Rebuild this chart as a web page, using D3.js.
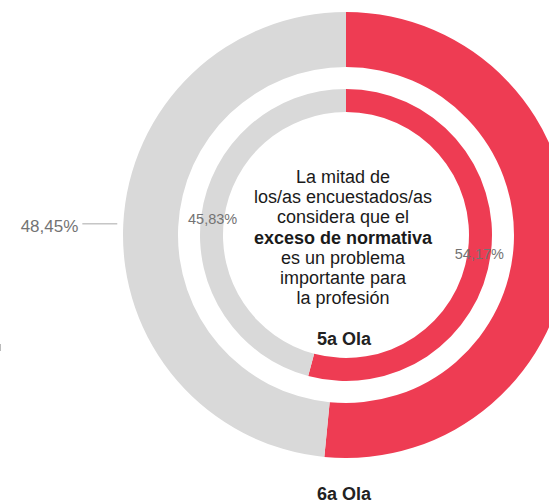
<!DOCTYPE html>
<html lang="es">
<head>
<meta charset="utf-8">
<script src="https://cdn.jsdelivr.net/npm/d3@7"></script>
<style>
  html, body { margin: 0; padding: 0; background: #fff; }
  svg { display: block; font-family: "Liberation Sans", Arial, Helvetica, sans-serif; }
</style>
</head>
<body>
<svg id="chart" width="549" height="504"></svg>
<script>
// Share of respondents who see excess regulation as an important problem
const categories = ["Problema importante", "Resto"];
const waves = ["6a Ola", "5a Ola"];
const outerValues = [51.55, 48.45];   // 6a Ola
const innerValues = [54.17, 45.83];   // 5a Ola
const centerLines = [
  { text: "La mitad de", bold: false },
  { text: "los/as encuestados/as", bold: false },
  { text: "considera que el", bold: false },
  { text: "exceso de normativa", bold: true },
  { text: "es un problema", bold: false },
  { text: "importante para", bold: false },
  { text: "la profesión", bold: false }
];

const svg = d3.select("#chart");
const W = +svg.attr("width");
const cx = 346, cy = 235;

const color = d3.scaleOrdinal().domain(categories).range(["#ee3c53", "#d9d9d9"]);
const fmt = v => d3.format(".2f")(v).replace(".", ",") + "%";

const pie = d3.pie().sort(null).value(d => d.value);
const toRows = vals => categories.map((c, i) => ({ category: c, value: vals[i] }));

const outerArc = d3.arc().innerRadius(168).outerRadius(223);
const innerArc = d3.arc().innerRadius(123).outerRadius(146);

const g = svg.append("g").attr("transform", `translate(${cx},${cy})`);

const outerData = pie(toRows(outerValues));
const innerData = pie(toRows(innerValues));

g.append("g").selectAll("path").data(outerData).join("path")
  .attr("d", outerArc)
  .attr("fill", d => color(d.data.category));

g.append("g").selectAll("path").data(innerData).join("path")
  .attr("d", innerArc)
  .attr("fill", d => color(d.data.category));

// Outer ring labels with leader lines (only those that fall inside the view)
const midAngle = d => (d.startAngle + d.endAngle) / 2;
const polar = (a, r) => [Math.sin(a) * r, -Math.cos(a) * r];

const outerLabels = g.append("g");
outerData
  .filter(d => cx + polar(midAngle(d), 264)[0] < W)
  .forEach(d => {
    const a = midAngle(d);
    const p1 = polar(a, 229);
    const p2 = polar(a, 264);
    const left = p2[0] < 0;
    outerLabels.append("line")
      .attr("x1", p1[0]).attr("y1", p1[1])
      .attr("x2", p2[0]).attr("y2", p1[1])
      .attr("stroke", "#a8a8a8").attr("stroke-width", 1);
    outerLabels.append("text")
      .attr("x", p2[0] + (left ? -4 : 4))
      .attr("y", p1[1])
      .attr("dy", "0.47em")
      .attr("text-anchor", left ? "end" : "start")
      .attr("font-size", 17)
      .attr("fill", "#737373")
      .text(fmt(d.data.value));
  });

// Inner ring labels at the arc centroid
g.append("g").selectAll("text").data(innerData).join("text")
  .attr("transform", d => `translate(${innerArc.centroid(d)})`)
  .attr("dy", "0.45em")
  .attr("text-anchor", "middle")
  .attr("font-size", 14.5)
  .attr("fill", "#737373")
  .text(d => fmt(d.data.value));

// Centre text
const ct = g.append("text")
  .attr("text-anchor", "middle")
  .attr("font-size", 18)
  .attr("fill", "#1a1a1a");
centerLines.forEach((l, i) => {
  ct.append("tspan")
    .attr("x", -3)
    .attr("y", -52 + i * 20.2)
    .attr("font-weight", l.bold ? "bold" : "normal")
    .text(l.text);
});

// Wave names
g.append("text")
  .attr("x", -2).attr("y", 110)
  .attr("text-anchor", "middle")
  .attr("font-size", 18).attr("font-weight", "bold")
  .attr("fill", "#222")
  .text(waves[1]);

g.append("text")
  .attr("x", -2).attr("y", 265)
  .attr("text-anchor", "middle")
  .attr("font-size", 18).attr("font-weight", "bold")
  .attr("fill", "#222")
  .text(waves[0]);

// small tick at the left edge
svg.append("line")
  .attr("x1", 0.5).attr("x2", 0.5).attr("y1", 344).attr("y2", 351)
  .attr("stroke", "#bbb").attr("stroke-width", 1);
</script>
</body>
</html>
